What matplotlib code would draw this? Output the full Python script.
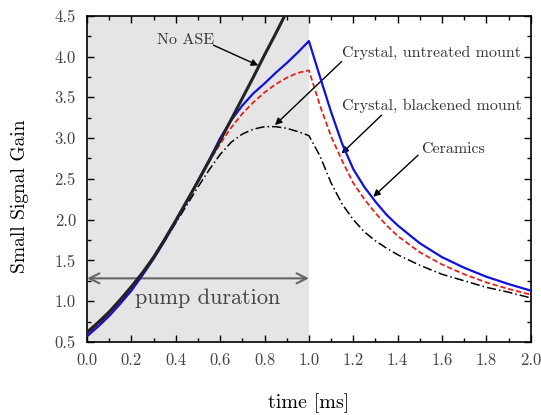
import matplotlib
matplotlib.use("Agg")
import matplotlib.pyplot as plt
from matplotlib.ticker import MultipleLocator, FormatStrFormatter

plt.rcParams["font.family"] = "cmr10"
plt.rcParams["axes.formatter.use_mathtext"] = True

# No ASE (thick black line)
t_noase = [0.0, 0.05, 0.1, 0.15, 0.2, 0.25, 0.3, 0.35, 0.4, 0.45, 0.5, 0.55, 0.6, 0.65, 0.7, 0.75, 0.8, 0.85, 0.9]
g_noase = [0.62, 0.74, 0.87, 1.02, 1.18, 1.35, 1.54, 1.76, 1.99, 2.23, 2.47, 2.72, 2.97, 3.23, 3.49, 3.75, 4.02, 4.28, 4.55]

# Ceramics (blue)
t_blue = [0.0, 0.05, 0.1, 0.15, 0.2, 0.25, 0.3, 0.35, 0.4, 0.45, 0.5, 0.55, 0.6, 0.65, 0.7, 0.75, 0.8, 0.85, 0.9, 0.95, 1.0,
          1.05, 1.1, 1.15, 1.2, 1.25, 1.3, 1.35, 1.4, 1.5, 1.6, 1.7, 1.8, 1.9, 2.0]
g_blue = [0.57, 0.69, 0.82, 0.97, 1.13, 1.32, 1.52, 1.74, 1.98, 2.22, 2.48, 2.73, 3.0, 3.22, 3.40, 3.55, 3.67, 3.80, 3.92, 4.05, 4.19,
          3.75, 3.32, 2.93, 2.62, 2.40, 2.22, 2.06, 1.93, 1.71, 1.54, 1.41, 1.30, 1.21, 1.13]

# Crystal, blackened mount (red dashed)
t_red = [0.0, 0.05, 0.1, 0.15, 0.2, 0.25, 0.3, 0.35, 0.4, 0.45, 0.5, 0.55, 0.6, 0.65, 0.7, 0.75, 0.8, 0.85, 0.9, 0.95, 1.0,
         1.05, 1.1, 1.15, 1.2, 1.25, 1.3, 1.35, 1.4, 1.5, 1.6, 1.7, 1.8, 1.9, 2.0]
g_red = [0.59, 0.71, 0.84, 0.99, 1.15, 1.34, 1.54, 1.76, 1.99, 2.23, 2.47, 2.71, 2.93, 3.13, 3.30, 3.44, 3.56, 3.66, 3.74, 3.80, 3.83,
         3.40, 3.02, 2.72, 2.45, 2.25, 2.08, 1.93, 1.80, 1.60, 1.45, 1.33, 1.23, 1.15, 1.08]

# Crystal, untreated mount (black dash-dot)
t_dd = [0.0, 0.05, 0.1, 0.15, 0.2, 0.25, 0.3, 0.35, 0.4, 0.45, 0.5, 0.55, 0.6, 0.65, 0.7, 0.75, 0.8, 0.85, 0.9, 0.95, 1.0,
        1.05, 1.1, 1.15, 1.2, 1.25, 1.3, 1.35, 1.4, 1.5, 1.6, 1.7, 1.8, 1.9, 2.0]
g_dd = [0.60, 0.72, 0.85, 1.00, 1.16, 1.34, 1.53, 1.74, 1.96, 2.18, 2.40, 2.61, 2.80, 2.95, 3.05, 3.11, 3.14, 3.14, 3.12, 3.08, 3.03,
        2.78, 2.45, 2.19, 2.00, 1.85, 1.74, 1.65, 1.57, 1.44, 1.33, 1.25, 1.17, 1.11, 1.04]

fig = plt.figure(figsize=(5.41, 4.15), dpi=100)
ax = fig.add_axes([0.161, 0.176, 0.82, 0.786])

ax.axvspan(0.0, 1.0, color="#e5e5e5", lw=0, zorder=0)

ax.plot(t_dd, g_dd, color="black", lw=1.1, ls=(0, (6, 2, 1, 2)), zorder=2)
ax.plot(t_red, g_red, color="#e8201c", lw=1.3, ls=(0, (3, 1.5)), zorder=3)
ax.plot(t_blue, g_blue, color="#1010e0", lw=1.6, zorder=4)
ax.plot(t_noase, g_noase, color="#222222", lw=2.2, zorder=5)

ax.set_xlim(0, 2.0)
ax.set_ylim(0.5, 4.5)
ax.xaxis.set_major_locator(MultipleLocator(0.2))
ax.xaxis.set_minor_locator(MultipleLocator(0.1))
ax.yaxis.set_major_locator(MultipleLocator(0.5))
ax.yaxis.set_minor_locator(MultipleLocator(0.25))
ax.xaxis.set_major_formatter(FormatStrFormatter("%.1f"))
ax.yaxis.set_major_formatter(FormatStrFormatter("%.1f"))
ax.tick_params(which="both", direction="in", top=True, right=True, colors="black",
               labelcolor="#444444", labelsize=12, width=1.0)
ax.tick_params(which="major", length=5, pad=8)
ax.tick_params(which="minor", length=3)
for s in ax.spines.values():
    s.set_linewidth(1.2)

ax.set_xlabel("time [ms]", fontsize=14.5, labelpad=18)
ax.set_ylabel("Small Signal Gain", fontsize=14)
ax.yaxis.set_label_coords(-0.13, 0.447)

# annotations: label text, text position, arrow start, arrow tip
arrow = dict(arrowstyle="-|>", color="black", lw=1.0, mutation_scale=10, shrinkA=0, shrinkB=0)
notes = [
    ("No ASE", (0.446, 4.2), "center", (0.569, 4.14), (0.772, 3.89)),
    ("Crystal, untreated mount", (1.148, 4.04), "left", (1.148, 3.94), (0.847, 3.16)),
    ("Crystal, blackened mount", (1.148, 3.40), "left", (1.327, 3.28), (1.147, 2.81)),
    ("Ceramics", (1.505, 2.87), "left", (1.492, 2.79), (1.29, 2.28)),
]
for label, pos, ha, start, tip in notes:
    ax.text(pos[0], pos[1], label, fontsize=11.5, color="#333333", ha=ha, va="center")
    ax.annotate("", xy=tip, xytext=start, arrowprops=arrow)

ax.annotate("", xy=(0.0, 1.28), xytext=(1.0, 1.28),
            arrowprops=dict(arrowstyle="<->", color="#666666", lw=1.5, mutation_scale=18,
                            shrinkA=0, shrinkB=0))
ax.text(0.545, 1.03, "pump duration", fontsize=16, color="#444444", ha="center", va="center")

fig.savefig("out.png", dpi=100)
